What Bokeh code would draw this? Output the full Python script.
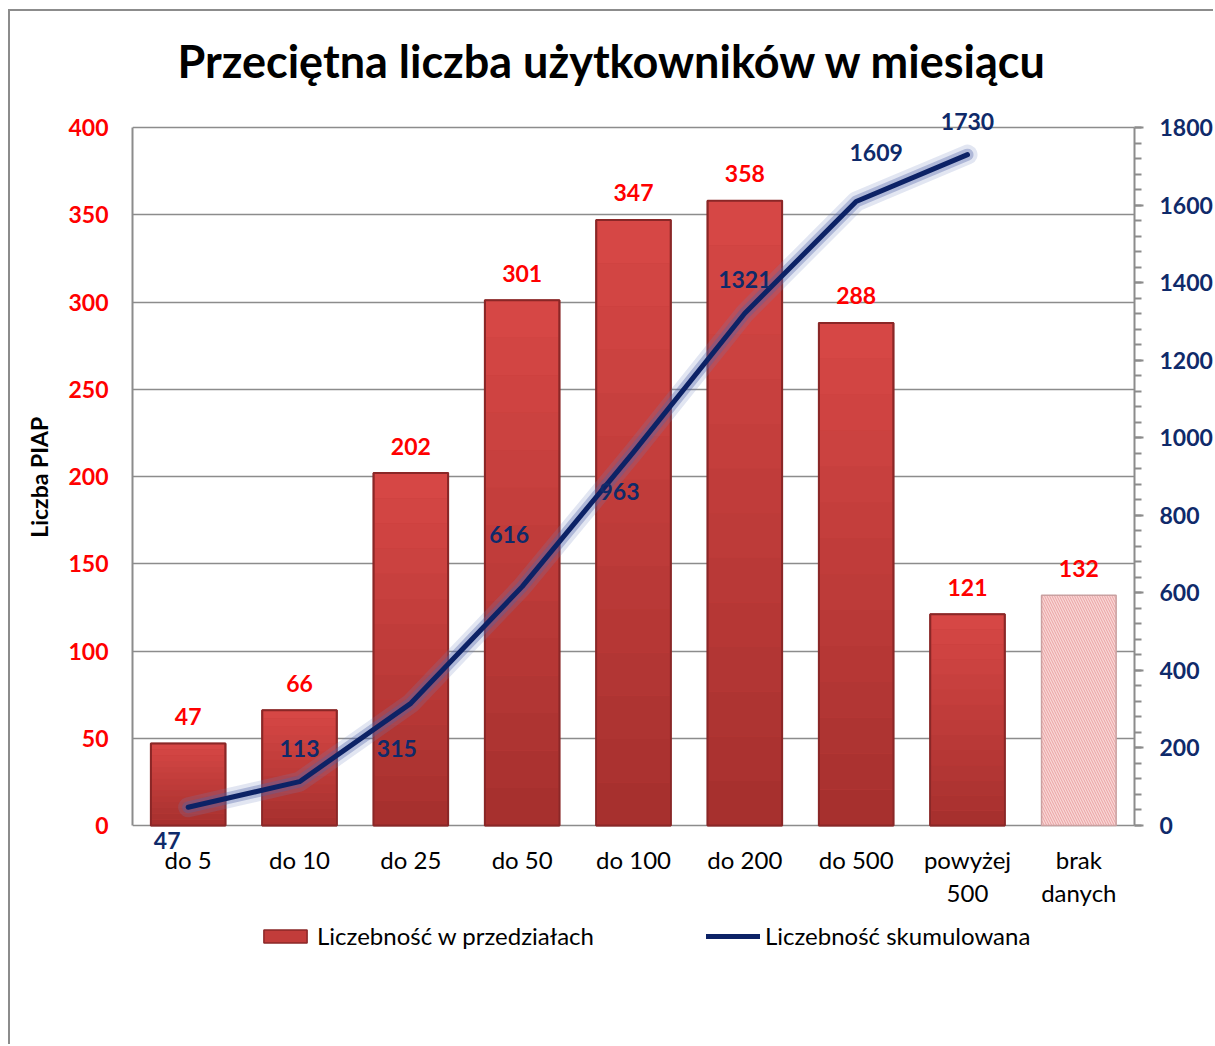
from bokeh.plotting import figure
from bokeh.models import (FactorRange, Range1d, LinearAxis, SingleIntervalTicker,
                          Legend, LegendItem)
from bokeh.core.properties import value
from bokeh.embed import file_html
from bokeh.resources import INLINE

# ---------------- data ----------------
categories = ["do 5", "do 10", "do 25", "do 50", "do 100", "do 200", "do 500",
              "powyżej 500", "brak danych"]
cat_labels = ["do 5", "do 10", "do 25", "do 50", "do 100", "do 200", "do 500",
              "powyżej\n500", "brak\ndanych"]
counts = [47, 66, 202, 301, 347, 358, 288, 121, 132]          # left axis (bars)
cum_categories = categories[:8]
cumulative = [47, 113, 315, 616, 963, 1321, 1609, 1730]       # right axis (line)
left_ticks = [0, 50, 100, 150, 200, 250, 300, 350, 400]
right_ticks = [0, 200, 400, 600, 800, 1000, 1200, 1400, 1600, 1800]

title_text = "Przeciętna liczba użytkowników w miesiącu"
y_label = "Liczba PIAP"
series_bar = "Liczebność w przedziałach"
series_line = "Liczebność skumulowana"

# label offsets for cumulative values (pixels), mimicking the original placement
cum_dx = [-21, 0, -14, -13, -14, 0, 20, 0]
cum_dy = [33, -33, 45, -52, 39, -34, -49, -33]

FONT = "Lato"
RED = "#ff0000"
NAVY = "#0f2a6a"
GRID = "#8c8c8c"
FS = "23px"

# frame spans the full height of the canvas; axes are bounded to the data span
Y0, Y1 = -126.65, 466.48
K = 4.5  # right-axis / left-axis scale ratio (1800 / 400)

p = figure(x_range=FactorRange(*categories), y_range=Range1d(Y0, Y1),
           width=1205, height=1035, output_backend="svg", toolbar_location=None,
           min_border_left=122, min_border_right=79, min_border_top=0,
           min_border_bottom=0)
p.styles = {"margin-left": "8px", "margin-top": "9px",
            "border-left": "2px solid #8c8c8c", "border-top": "2px solid #8c8c8c"}
p.extra_y_ranges = {"cum": Range1d(Y0 * K, Y1 * K)}
p.outline_line_color = None
p.background_fill_color = "white"
p.xaxis.visible = False

# ---------------- axes ----------------
p.yaxis.ticker = left_ticks
p.yaxis.bounds = (0, 400)
p.yaxis.major_label_text_color = RED
p.yaxis.major_label_text_font = FONT
p.yaxis.major_label_text_font_style = "bold"
p.yaxis.major_label_text_font_size = FS
p.yaxis.major_tick_line_color = None
p.yaxis.major_tick_out = 0
p.yaxis.minor_tick_line_color = None
p.yaxis.axis_line_color = GRID
p.yaxis.axis_line_width = 2
p.yaxis.major_label_standoff = 24
# leading em spaces lift the label so it is centred on the 0-400 span
p.yaxis.axis_label = "\u2003" * 6 + y_label
p.yaxis.axis_label_text_font = FONT
p.yaxis.axis_label_text_font_style = "bold"
p.yaxis.axis_label_text_font_size = FS
p.yaxis.axis_label_text_color = "black"
p.yaxis.axis_label_standoff = 12

ra = LinearAxis(y_range_name="cum", bounds=(0, 1800),
                ticker=SingleIntervalTicker(interval=200, num_minor_ticks=5))
ra.major_label_text_color = NAVY
ra.major_label_text_font = FONT
ra.major_label_text_font_style = "bold"
ra.major_label_text_font_size = FS
ra.axis_line_color = GRID
ra.axis_line_width = 2
ra.major_tick_line_color = GRID
ra.major_tick_line_width = 2
ra.minor_tick_line_color = GRID
ra.minor_tick_line_width = 2
ra.major_tick_out = 9
ra.major_tick_in = 0
ra.minor_tick_out = 7
ra.minor_tick_in = 0
ra.major_label_standoff = 16
p.add_layout(ra, "right")

p.xgrid.grid_line_color = None
p.ygrid.ticker = left_ticks
p.ygrid.grid_line_color = GRID
p.ygrid.grid_line_width = 1.5

# ---------------- title ----------------
p.text(x=[categories[4]], y=[Y1], text=[title_text], x_offset=-21, y_offset=49,
       text_font=value(FONT), text_font_style="bold", text_font_size="45px",
       text_color="black", text_align="center", text_baseline="middle")

# ---------------- category labels ----------------
p.text(x=categories, y=[0] * len(categories), text=cat_labels, y_offset=20,
       text_font=value(FONT), text_font_size="24px", text_color="black",
       text_align="center", text_baseline="top", text_line_height=1.11)

# ---------------- bars ----------------
main_cats = categories[:8]
main_vals = counts[:8]
W = 0.67
base = p.vbar(x=main_cats, top=main_vals, width=W, fill_color="#c23c3a",
              line_color="#8a2727", line_width=1.5)

# vertical gradient: lighter at top, darker at bottom
N = 14
top_c = (0xd8, 0x48, 0x46)
bot_c = (0xa6, 0x30, 0x2e)
for k in range(N):
    t = (k + 0.5) / N
    col = tuple(int(bot_c[i] + (top_c[i] - bot_c[i]) * t) for i in range(3))
    p.vbar(x=main_cats, bottom=[v * k / N for v in main_vals],
           top=[v * (k + 1) / N for v in main_vals], width=W - 0.02,
           fill_color="#%02x%02x%02x" % col, line_color=None)
p.vbar(x=main_cats, top=main_vals, width=W, fill_color=None,
       line_color="#8a2727", line_width=2)

# "brak danych" bar (hatched)
p.vbar(x=categories[8:], top=counts[8:], width=W, fill_color="#f9d6d6",
       hatch_pattern="left_diagonal_line", hatch_color="#e9a3a3", hatch_scale=5,
       hatch_weight=1, line_color="#c9a0a0", line_width=1.5)

# bar value labels
p.text(x=categories, y=counts, text=[str(v) for v in counts],
       text_font=value(FONT), text_font_style="bold", text_font_size=FS,
       text_color=RED, text_align="center", text_baseline="middle", y_offset=-27)

# ---------------- cumulative line ----------------
p.line(x=cum_categories, y=cumulative, y_range_name="cum", line_color="#7080c0",
       line_width=20, line_alpha=0.2, line_join="round", line_cap="round")
p.line(x=cum_categories, y=cumulative, y_range_name="cum", line_color="#5060a8",
       line_width=12, line_alpha=0.35, line_join="round", line_cap="round")
ln = p.line(x=cum_categories, y=cumulative, y_range_name="cum",
            line_color="#0c2266", line_width=5, line_join="round", line_cap="round")

p.text(x=cum_categories, y=cumulative, text=[str(v) for v in cumulative],
       y_range_name="cum", x_offset=cum_dx, y_offset=cum_dy,
       text_font=value(FONT), text_font_style="bold", text_font_size=FS,
       text_color=NAVY, text_align="center", text_baseline="middle")

# ---------------- legend ----------------
legend = Legend(items=[LegendItem(label=series_bar, renderers=[base]),
                       LegendItem(label=series_line, renderers=[ln])],
                orientation="horizontal", location=(126, 96))
legend.border_line_color = None
legend.background_fill_alpha = 0
legend.label_text_font = FONT
legend.label_text_font_size = "24px"
legend.label_text_color = "black"
legend.glyph_width = 54
legend.glyph_height = 16
legend.label_height = 26
legend.spacing = 112
legend.padding = 0
legend.margin = 0
legend.label_standoff = 5
p.add_layout(legend)

open("out.html", "w").write(file_html(p, INLINE))
